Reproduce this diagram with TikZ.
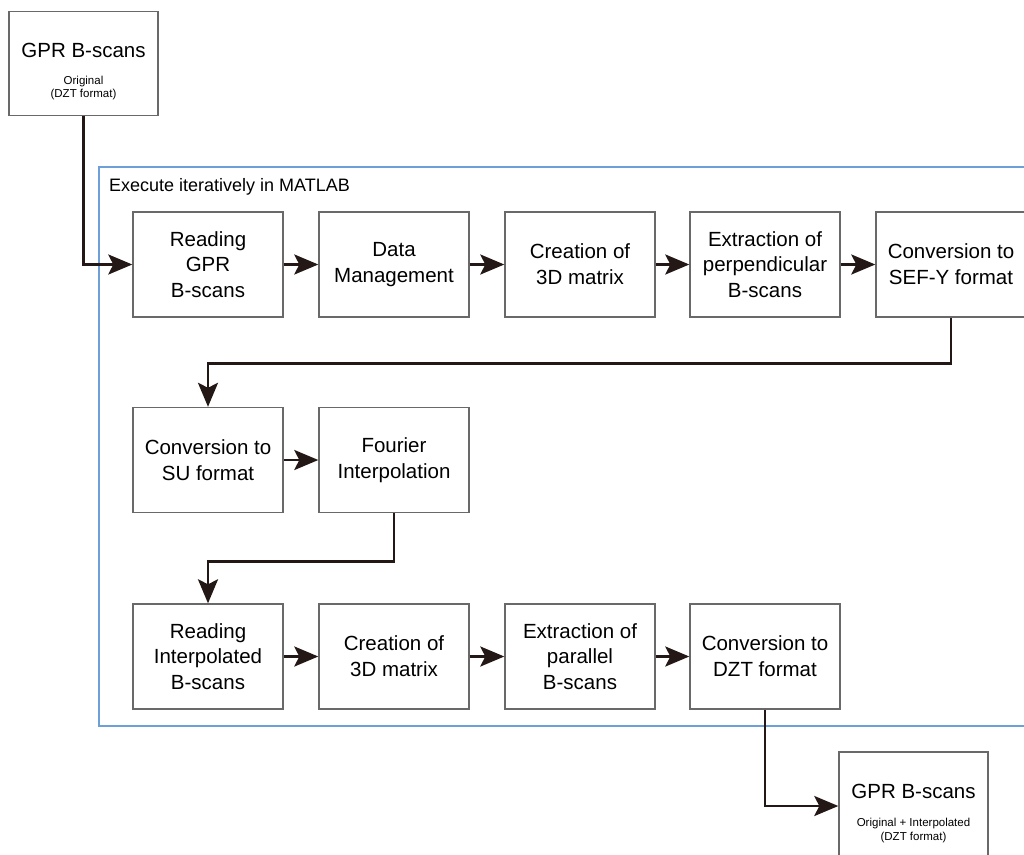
\documentclass[tikz,border=0pt]{standalone}
\usepackage{fontspec}
\setmainfont{Liberation Sans}
\usetikzlibrary{arrows.meta}
\definecolor{boxc}{RGB}{105,105,105}
\definecolor{framec}{RGB}{110,160,215}
\definecolor{arrc}{RGB}{35,24,21}
\tikzset{
  stepbox/.style={draw=boxc, line width=1.4pt, fill=white, minimum width=150pt, minimum height=105pt, inner sep=0pt, align=center, font=\fontsize{20.5}{25.8}\selectfont},
  endbox/.style={draw=boxc, line width=1.4pt, fill=white, inner sep=0pt},
  bigtxt/.style={anchor=base, inner sep=0pt, font=\fontsize{20.5}{25.5}\selectfont},
  smalltxt/.style={anchor=base, inner sep=0pt, font=\fontsize{11.5}{13.5}\selectfont},
  flow/.style={draw=arrc, line width=2.6pt, -{Stealth[length=24pt,width=20pt,inset=5pt]}},
}
\begin{document}
\begin{tikzpicture}[x=1pt,y=-1pt]
\useasboundingbox (0,0) rectangle (1024,854);
\clip (0,0) rectangle (1024,854);
\fill[white] (0,0) rectangle (1024,854);
% frame
\draw[framec, line width=1.4pt] (1040,167) -- (99,167) -- (99,726) -- (1040,726);
\node[anchor=base west, inner sep=0pt, font=\fontsize{18}{21}\selectfont] (hdr) at (109,191) {Execute iteratively in MATLAB};
% input box
\node[endbox, minimum width=149pt, minimum height=104pt] (in) at (83.5,63.5) {};
\node[bigtxt] (inT) at (83.5,57) {GPR B-scans};
\node[smalltxt] (inA) at (83.5,84) {Original};
\node[smalltxt] (inB) at (83.5,97.5) {(DZT format)};
% row 1
\node[stepbox] (r11) at (208,264.5) {Reading\\GPR\\B-scans};
\node[stepbox] (r12) at (394,264.5) {Data\\Management};
\node[stepbox] (r13) at (580,264.5) {Creation of\\3D matrix};
\node[stepbox] (r14) at (765,264.5) {Extraction of\\perpendicular\\B-scans};
\node[stepbox] (r15) at (951,264.5) {Conversion to\\SEF-Y format};
% row 2
\node[stepbox] (r21) at (208,460) {Conversion to\\SU format};
\node[stepbox] (r22) at (394,460) {Fourier\\Interpolation};
% row 3
\node[stepbox] (r31) at (208,656.5) {Reading\\Interpolated\\B-scans};
\node[stepbox] (r32) at (394,656.5) {Creation of\\3D matrix};
\node[stepbox] (r33) at (580,656.5) {Extraction of\\parallel\\B-scans};
\node[stepbox] (r34) at (765,656.5) {Conversion to\\DZT format};
% output box
\node[endbox, minimum width=149pt, minimum height=108pt] (out) at (913.5,806) {};
\node[bigtxt] (outT) at (913.5,798) {GPR B-scans};
\node[smalltxt] (outA) at (913.5,826) {Original + Interpolated};
\node[smalltxt] (outB) at (913.5,840) {(DZT format)};
% connectors
\draw[flow] (in.south) |- (r11.west);
\draw[flow] (r11) -- (r12);
\draw[flow] (r12) -- (r13);
\draw[flow] (r13) -- (r14);
\draw[flow] (r14) -- (r15);
\draw[flow] (r15.south) -- ++(0,46) -| (r21.north);
\draw[flow] (r21) -- (r22);
\draw[flow] (r22.south) -- ++(0,48) -| (r31.north);
\draw[flow] (r31) -- (r32);
\draw[flow] (r32) -- (r33);
\draw[flow] (r33) -- (r34);
\draw[flow] (r34.south) |- (out.west);
\end{tikzpicture}
\end{document}
